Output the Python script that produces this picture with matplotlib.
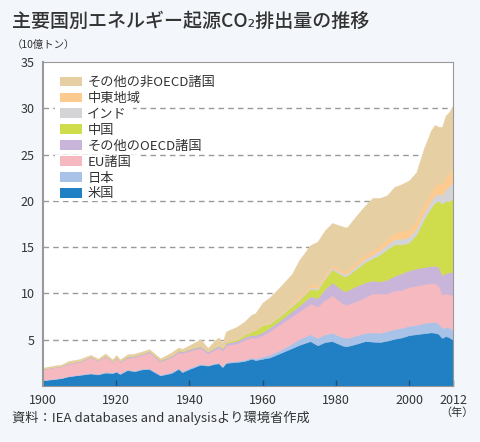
import numpy as np
import matplotlib
matplotlib.use("Agg")
import matplotlib.pyplot as plt
from matplotlib.patches import Patch, Rectangle

plt.rcParams['font.family'] = ['Noto Sans CJK JP', 'DejaVu Sans']

years = [1900, 1903, 1905, 1907, 1910, 1913, 1915, 1917, 1919, 1920,
         1921, 1923, 1925, 1927, 1929, 1932, 1935, 1937, 1938, 1940,
         1943, 1945, 1947, 1948, 1949, 1950, 1953, 1955, 1957, 1958,
         1960, 1962, 1965, 1968, 1970, 1973, 1975, 1977, 1979, 1982,
         1983, 1985, 1988, 1990, 1992, 1994, 1996, 1998, 2000, 2002,
         2004, 2006, 2007, 2008, 2009, 2010, 2011, 2012]

# 10億トン
usa = [0.62, 0.75, 0.85, 1.05, 1.20, 1.35, 1.25, 1.45, 1.40, 1.55,
       1.30, 1.72, 1.60, 1.80, 1.83, 1.15, 1.40, 1.85, 1.50, 1.85,
       2.30, 2.20, 2.40, 2.45, 2.05, 2.50, 2.60, 2.70, 2.95, 2.80,
       2.95, 3.10, 3.60, 4.10, 4.45, 4.85, 4.40, 4.75, 4.85, 4.35,
       4.30, 4.50, 4.85, 4.80, 4.75, 4.90, 5.10, 5.25, 5.50, 5.60,
       5.70, 5.80, 5.75, 5.65, 5.20, 5.40, 5.25, 5.00]
japan = [0.05, 0.05, 0.05, 0.05, 0.06, 0.07, 0.07, 0.07, 0.07, 0.07,
         0.07, 0.08, 0.08, 0.08, 0.09, 0.09, 0.10, 0.11, 0.12, 0.12,
         0.12, 0.08, 0.08, 0.09, 0.09, 0.10, 0.12, 0.15, 0.15, 0.17,
         0.25, 0.30, 0.35, 0.50, 0.65, 0.75, 0.80, 0.85, 0.90, 0.90,
         0.90, 0.90, 0.90, 1.00, 1.00, 1.05, 1.05, 1.05, 1.00, 1.00,
         1.10, 1.10, 1.15, 1.15, 1.05, 1.00, 1.05, 1.05]
eu = [1.11, 1.20, 1.20, 1.30, 1.34, 1.68, 1.38, 1.68, 1.13, 1.38,
      1.23, 1.25, 1.47, 1.47, 1.73, 1.41, 1.60, 1.69, 1.93, 1.83,
      1.68, 1.22, 1.47, 1.56, 1.71, 1.80, 1.88, 2.15, 2.15, 2.23,
      2.30, 2.55, 2.80, 2.95, 2.95, 3.30, 3.40, 3.70, 4.05, 3.60,
      3.60, 3.70, 3.85, 4.20, 4.25, 4.05, 4.15, 4.10, 4.20, 4.25,
      4.20, 4.20, 4.20, 4.10, 3.65, 3.60, 3.60, 3.75]
other_oecd = [0.07, 0.07, 0.08, 0.10, 0.10, 0.10, 0.10, 0.10, 0.10, 0.12,
              0.10, 0.12, 0.12, 0.13, 0.13, 0.15, 0.15, 0.17, 0.17, 0.18,
              0.20, 0.22, 0.22, 0.23, 0.23, 0.25, 0.28, 0.30, 0.30, 0.30,
              0.35, 0.40, 0.45, 0.55, 0.65, 0.80, 0.90, 1.20, 1.40, 1.45,
              1.50, 1.60, 1.60, 1.40, 1.30, 1.50, 1.60, 1.80, 1.80, 1.85,
              1.85, 1.85, 1.90, 2.00, 2.10, 2.20, 2.40, 2.50]
china = [0.02, 0.02, 0.02, 0.02, 0.02, 0.02, 0.02, 0.03, 0.03, 0.03,
         0.03, 0.08, 0.03, 0.04, 0.04, 0.06, 0.05, 0.06, 0.06, 0.06,
         0.06, 0.04, 0.05, 0.05, 0.06, 0.10, 0.17, 0.25, 0.35, 0.55,
         0.75, 0.40, 0.45, 0.55, 0.60, 0.80, 0.90, 1.10, 1.40, 1.60,
         1.60, 1.80, 2.20, 2.40, 2.90, 3.30, 3.40, 3.10, 3.00, 3.70,
         5.15, 6.35, 6.80, 7.10, 7.70, 7.80, 7.70, 8.00]
india = [0.02, 0.02, 0.02, 0.03, 0.03, 0.03, 0.03, 0.03, 0.03, 0.03,
         0.03, 0.03, 0.03, 0.03, 0.03, 0.03, 0.04, 0.04, 0.04, 0.04,
         0.04, 0.04, 0.05, 0.05, 0.05, 0.05, 0.05, 0.07, 0.07, 0.07,
         0.08, 0.10, 0.12, 0.15, 0.15, 0.17, 0.20, 0.20, 0.22, 0.25,
         0.27, 0.30, 0.35, 0.40, 0.45, 0.50, 0.55, 0.60, 0.60, 0.65,
         0.70, 0.75, 0.80, 0.80, 0.90, 1.30, 1.60, 1.80]
middle_east = [0.00, 0.00, 0.00, 0.00, 0.00, 0.00, 0.00, 0.00, 0.01, 0.01,
               0.01, 0.01, 0.01, 0.01, 0.01, 0.01, 0.01, 0.02, 0.02, 0.02,
               0.03, 0.04, 0.05, 0.05, 0.06, 0.06, 0.07, 0.08, 0.10, 0.10,
               0.12, 0.13, 0.15, 0.20, 0.25, 0.28, 0.30, 0.30, 0.28, 0.30,
               0.33, 0.40, 0.45, 0.50, 0.55, 0.60, 0.75, 0.80, 0.85, 0.90,
               0.95, 1.00, 1.05, 1.10, 1.20, 1.30, 1.40, 1.60]
other_non_oecd = [0.08, 0.09, 0.08, 0.15, 0.15, 0.10, 0.10, 0.14, 0.08, 0.15,
                  0.08, 0.11, 0.16, 0.16, 0.12, 0.08, 0.25, 0.21, 0.16, 0.30,
                  0.62, 0.26, 0.63, 0.77, 0.40, 1.04, 1.23, 1.25, 1.63, 1.63,
                  2.20, 2.62, 2.88, 3.10, 3.90, 4.25, 4.70, 4.70, 4.50, 4.75,
                  4.60, 4.90, 5.30, 5.60, 5.10, 4.70, 4.90, 5.10, 5.25, 5.15,
                  5.95, 6.55, 6.55, 6.10, 6.20, 6.60, 6.60, 6.60]

labels = ['米国', '日本', 'EU諸国', 'その他のOECD諸国', '中国', 'インド',
          '中東地域', 'その他の非OECD諸国']
colors = ['#2180c3', '#a9c3e8', '#f6b9bf', '#c8b5d9', '#cfdc4b', '#d4d4d6',
          '#fdcb90', '#e6cfa3']

xticks = [1900, 1920, 1940, 1960, 1980, 2000, 2012]
yticks = [5, 10, 15, 20, 25, 30, 35]

bg = '#f3f6fb'
fig = plt.figure(figsize=(4.81, 4.42), dpi=100, facecolor=bg)
ax = fig.add_axes([43/481, 1-386/442, 410/481, 324/442])
ax.set_facecolor('white')

series = [usa, japan, eu, other_oecd, china, india, middle_east, other_non_oecd]
polys = ax.stackplot(years, *series, colors=colors, linewidth=0.4)
for p, c in zip(polys, colors):
    p.set_edgecolor(c)

ax.set_xlim(1900, 2012)
ax.set_ylim(0, 35)
ax.set_xticks(xticks)
ax.set_yticks(yticks)
ax.tick_params(axis='x', direction='in', length=4, width=1, color='#1f4e7a',
               labelsize=9, labelcolor='#333333', pad=6)
ax.tick_params(axis='y', length=0, labelsize=9, labelcolor='#333333', pad=6)

for y in yticks[:-1]:
    ax.axhline(y, color='#999999', lw=1, ls=(0, (4, 3)), zorder=0)

for s in ['top', 'right', 'bottom']:
    ax.spines[s].set_color('#999999')
    ax.spines[s].set_linewidth(0.8)
ax.spines['left'].set_color('#999999')
ax.spines['left'].set_linewidth(1.5)

handles = [Patch(facecolor=c, edgecolor='none') for c in colors]
leg = ax.legend(handles[::-1], labels[::-1], loc='upper left',
                bbox_to_anchor=(0.018, 0.985), frameon=False, fontsize=9.5,
                handlelength=1.7, handleheight=0.75, handletextpad=0.4,
                labelspacing=0.22, borderpad=0.2)
for t in leg.get_texts():
    t.set_color('#333333')

# white strip behind each legend row (hides the dashed grid there)
fig.canvas.draw()
renderer = fig.canvas.get_renderer()
inv = ax.transAxes.inverted()
for h, t in zip(leg.legend_handles, leg.get_texts()):
    hb = h.get_window_extent(renderer)
    tb = t.get_window_extent(renderer)
    (x0, y0) = inv.transform((hb.x0 - 5, min(hb.y0, tb.y0) - 1))
    (x1, y1) = inv.transform((tb.x1 + 6, max(hb.y1, tb.y1) + 1))
    ax.add_patch(Rectangle((x0, y0), x1 - x0, y1 - y0, transform=ax.transAxes,
                           facecolor='white', edgecolor='none', zorder=0.5))

fig.text(12/481, 1-21/442, '主要国別エネルギー起源CO₂排出量の推移', fontsize=13.7,
         fontweight='medium', color='#333333', va='center', ha='left')
fig.text(12/481, 1-45/442, '（10億トン）', fontsize=7.5, color='#333333',
         va='center', ha='left')
fig.text(457/481, 1-413/442, '（年）', fontsize=8, color='#333333',
         va='center', ha='center')
fig.text(12/481, 1-418/442, '資料：IEA databases and analysisより環境省作成',
         fontsize=9.5, color='#333333', va='center', ha='left')

fig.savefig('out.png', dpi=100, facecolor=bg)
